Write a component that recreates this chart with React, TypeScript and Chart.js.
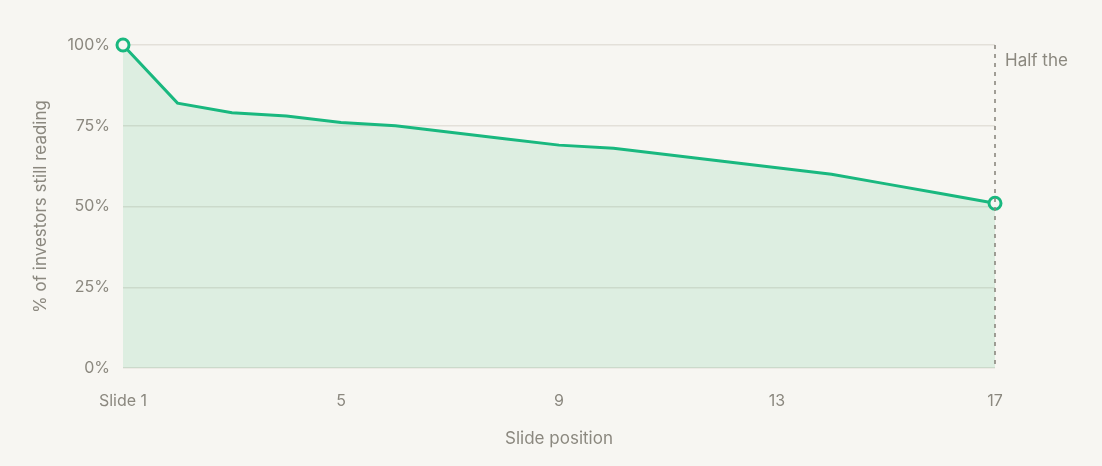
import React, { useEffect, useRef } from 'react';
import { Chart, registerables } from 'chart.js';

Chart.register(...registerables);

const slides = ['Slide 1', '2', '3', '4', '5', '6', '7', '8', '9', '10', '11', '12', '13', '14', '15', '16', '17'];
const stillReading = [100, 82, 79, 78, 76, 75, 73, 71, 69, 68, 66, 64, 62, 60, 57, 54, 51];
const yTicks = [0, 25, 50, 75, 100];
const markerLabel = 'Half the';

const BG = '#f7f6f2';
const GREEN = '#19b87f';
const TEXT = '#8b887f';
const FONT = 'Inter, "Noto Sans", sans-serif';

const markerPlugin = {
  id: 'halfMarker',
  afterDatasetsDraw(chart: any) {
    const { ctx, chartArea, scales } = chart;
    const x = scales.x.getPixelForValue(stillReading.length - 1);
    ctx.save();
    ctx.strokeStyle = TEXT;
    ctx.lineWidth = 1.6;
    ctx.setLineDash([4, 5]);
    ctx.beginPath();
    ctx.moveTo(x, chartArea.top);
    ctx.lineTo(x, chartArea.bottom);
    ctx.stroke();
    ctx.setLineDash([]);
    ctx.fillStyle = TEXT;
    ctx.font = `17px ${FONT}`;
    ctx.textAlign = 'left';
    ctx.textBaseline = 'middle';
    ctx.fillText(markerLabel, x + 10, chartArea.top + 16);
    ctx.restore();
  },
};

const RetentionChart: React.FC = () => {
  const canvasRef = useRef<HTMLCanvasElement>(null);
  const chartRef = useRef<Chart | null>(null);

  useEffect(() => {
    if (!canvasRef.current) return;
    if (chartRef.current) chartRef.current.destroy();
    const last = stillReading.length - 1;

    chartRef.current = new Chart(canvasRef.current, {
      type: 'line',
      data: {
        labels: slides,
        datasets: [
          {
            data: stillReading,
            borderColor: GREEN,
            backgroundColor: 'rgba(29, 185, 110, 0.12)',
            fill: 'origin',
            borderWidth: 3,
            tension: 0,
            pointRadius: (c: any) => (c.dataIndex === 0 || c.dataIndex === last ? 6 : 0),
            pointHoverRadius: 0,
            pointBackgroundColor: BG,
            pointBorderColor: GREEN,
            pointBorderWidth: 3,
          },
        ],
      },
      options: {
        animation: false,
        responsive: false,
        clip: false,
        layout: { padding: { top: 45, right: 107, left: 0, bottom: 0 } },
        plugins: { legend: { display: false }, tooltip: { enabled: false } },
        scales: {
          x: {
            offset: false,
            grid: { display: false, drawTicks: false },
            border: { display: false },
            ticks: {
              autoSkip: false,
              maxRotation: 0,
              padding: 24,
              color: TEXT,
              font: { family: FONT, size: 16 },
              callback: (_v: any, i: number) => (i % 4 === 0 ? slides[i] : null),
            },
            title: {
              display: true,
              text: 'Slide position',
              color: TEXT,
              font: { family: FONT, size: 17 },
              padding: { top: 0, bottom: 17 },
            },
            afterFit: (s: any) => {
              s.height = 98;
            },
          },
          y: {
            min: 0,
            max: 100,
            afterBuildTicks: (s: any) => {
              s.ticks = yTicks.map((v) => ({ value: v }));
            },
            grid: { color: '#e3e0d9', lineWidth: 1.5, drawTicks: false },
            border: { display: false },
            ticks: {
              padding: 13,
              color: TEXT,
              font: { family: FONT, size: 16 },
              callback: (v: any) => `${v}%`,
            },
            title: {
              display: true,
              text: '% of investors still reading',
              color: TEXT,
              font: { family: FONT, size: 17 },
              padding: { top: 31, bottom: 0 },
            },
            afterFit: (s: any) => {
              s.width = 123;
            },
          },
        },
      },
      plugins: [markerPlugin],
    });

    return () => {
      if (chartRef.current) {
        chartRef.current.destroy();
        chartRef.current = null;
      }
    };
  }, []);

  return <canvas ref={canvasRef} width={1102} height={466} style={{ display: 'block' }} />;
};

export default function App() {
  return (
    <div style={{ width: 1102, height: 466, background: BG }}>
      <style>{`body{margin:0;background:${BG};}`}</style>
      <RetentionChart />
    </div>
  );
}
